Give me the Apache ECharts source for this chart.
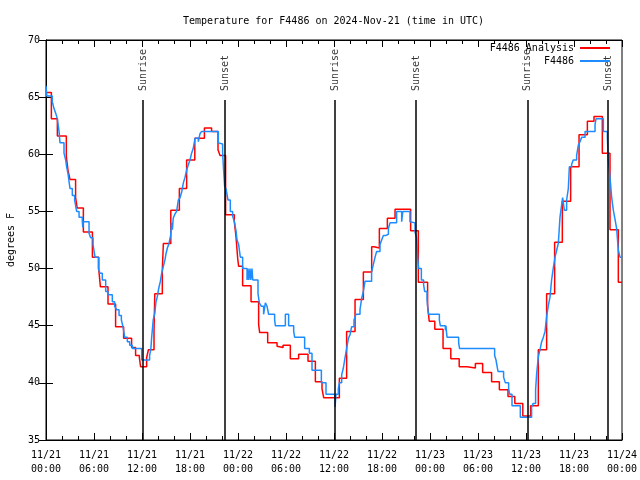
<!DOCTYPE html>
<html><head><meta charset="utf-8">
<script src="https://cdn.jsdelivr.net/npm/echarts@6/dist/echarts.min.js"></script>
<style>html,body{margin:0;padding:0;background:#fff}#c{width:640px;height:480px}</style>
</head><body><div id="c"></div>
<script>
// hours since 2024-11-21 00:00 UTC
const analysisHours = [0,0.67,1.42,2.54,2.75,3.0,3.7,3.9,4.67,5.8,6.6,6.8,7.75,8.7,9.7,10.7,11.2,11.67,11.83,12.58,12.8,13.5,13.6,14.54,14.67,15.6,16.67,17.58,18.6,19.8,20.7,21.5,21.75,22.45,23.54,23.75,23.96,24.08,24.58,25.63,26.58,26.71,27.71,28.88,29.08,29.63,30.54,31.58,32.75,33.67,34.5,34.71,36.67,37.58,38.63,39.67,40.71,41.0,41.67,42.67,43.63,45.58,46.54,47.7,47.9,48.6,49.63,50.6,51.65,52.63,53.67,54.58,55.7,56.67,57.75,58.6,59.6,60.58,61.54,62.58,63.58,64.54,65.58,66.63,67.67,68.5,69.54,70.5,71.54,72];
const analysisTemps = [65.4,63.1,61.6,59.8,58.6,57.8,56.2,55.3,53.2,51.0,49.9,48.4,46.9,44.9,43.9,43.1,42.4,42.2,41.4,42.2,42.9,44.5,47.8,49.9,52.2,55.1,57.0,59.5,61.4,62.3,62.0,60.4,59.9,54.7,54.1,52.8,50.9,50.2,48.5,47.1,45.1,44.4,43.5,43.2,43.1,43.3,42.1,42.5,41.9,40.1,39.5,38.7,40.4,44.5,47.3,49.7,51.9,51.8,53.5,54.4,55.2,53.3,48.8,46.8,45.4,44.7,43.0,42.1,41.4,41.3,41.7,40.9,40.1,39.4,38.8,38.2,37.1,38.0,42.9,47.8,52.3,55.9,58.9,61.7,62.9,63.3,60.1,53.4,48.8,48.8];

const stationHours = [0,0.1,0.79,1.0,1.21,1.42,1.63,1.75,2.25,2.46,2.58,2.75,3.0,3.29,3.58,3.83,4.13,4.54,4.6,4.65,5.38,5.58,5.88,6.13,6.54,6.75,7.04,7.46,7.75,8.29,8.58,8.83,9.13,9.42,9.63,9.83,10.17,10.46,10.79,11.96,12.95,13.1,13.2,13.4,13.6,13.75,13.9,14.1,14.3,14.46,14.67,14.88,15.0,15.17,15.38,15.58,15.7,15.8,15.9,16.13,16.33,16.54,16.75,16.96,17.17,17.38,17.58,17.8,18.0,18.2,18.4,18.63,19.04,19.25,19.46,21.54,21.75,22.08,22.2,22.33,22.5,22.75,23.04,23.33,23.58,23.75,23.88,24.08,24.29,24.58,25.13,25.25,25.35,25.5,25.6,25.75,25.85,26.5,26.67,26.92,27.2,27.42,27.63,27.83,28.58,28.67,29.92,30.33,30.96,31.08,32.33,32.92,33.25,34.42,35.0,36.13,36.25,36.54,36.67,36.96,37.17,37.38,37.58,37.8,38.0,38.2,38.5,38.75,39.25,39.46,39.67,39.88,40.7,40.9,41.13,41.33,41.75,41.96,42.17,42.5,42.8,43.0,43.83,44.46,44.6,45.5,45.7,46.13,46.33,46.45,46.58,46.92,47.2,47.33,47.63,47.75,47.83,49.17,49.29,49.92,50.0,50.05,50.13,51.58,51.7,56.08,56.25,56.5,57.2,57.42,57.83,57.96,58.25,59.29,60.7,60.9,61.2,61.33,61.54,61.75,61.96,62.17,62.38,62.58,62.8,63.0,63.2,63.4,63.63,63.83,64.04,64.25,64.46,64.58,64.8,65.08,65.29,65.42,65.7,65.9,66.33,66.54,66.75,66.96,67.38,68.63,68.75,69.67,70.17,70.29,70.5,70.71,70.92,71.13,71.33,71.54,71.75,72];
const stationTemps = [66.0,65.1,64.6,64.0,63.6,63.1,62.0,61.0,60.1,59.5,58.9,58.3,57.0,56.4,56.0,55.0,54.5,54.1,53.6,54.1,53.1,52.7,52.1,51.0,50.0,49.6,49.0,48.0,47.7,47.1,46.7,46.4,45.9,45.5,44.9,44.0,43.6,43.3,43.0,42.0,42.4,42.9,43.9,45.5,46.1,47.1,47.5,48.3,48.9,49.6,50.2,50.8,51.3,51.8,52.2,52.9,54.0,53.4,54.4,54.8,55.0,56.0,56.2,56.7,57.5,58.0,58.6,59.1,59.5,60.1,60.5,61.4,61.1,61.8,62.0,61.0,60.9,60.1,58.6,57.2,57.0,56.0,55.0,54.6,54.0,53.3,52.5,52.1,51.0,50.0,49.0,50.0,49.0,50.0,49.0,50.0,49.0,47.8,47.0,46.7,46.0,47.0,46.7,46.0,45.5,45.0,46.0,45.0,44.5,44.0,43.0,42.6,41.1,40.0,39.0,37.9,39.0,39.5,40.0,40.7,41.3,42.2,43.0,43.9,44.2,44.9,45.5,46.0,46.4,47.4,48.0,48.9,49.7,50.3,51.0,51.5,52.1,52.5,52.9,53.0,53.5,54.0,55.0,54.1,55.0,54.1,54.0,53.2,52.7,51.0,50.0,49.0,48.6,48.0,47.3,46.3,46.0,45.5,45.0,44.6,45.0,44.5,44.0,43.5,43.0,42.4,42.0,41.0,40.5,40.0,39.5,39.0,38.0,37.0,37.9,38.2,39.4,40.8,42.3,42.9,43.6,44.0,44.5,45.8,46.8,47.5,49.0,50.0,51.0,51.6,52.2,54.5,55.6,56.2,55.1,56.0,57.0,58.9,59.1,59.5,59.9,60.8,61.1,61.5,62.0,62.6,63.1,62.0,61.5,59.5,58.0,56.2,55.1,54.3,53.5,51.6,51.0,51.0];

const sunriseHours = [12.15, 36.15, 60.17];
const sunsetHours = [22.4, 46.27, 70.28];
const dayLabels = ['11/21', '11/22', '11/23', '11/24'];
const yTicks = [35, 40, 45, 50, 55, 60, 65, 70];

const FONT = 'DejaVu Sans Mono';
const pair = (xs, ys) => xs.map((x, i) => [x, ys[i]]);
const sunLabelTemp = 65.45, sunLineTop = 64.75;

const sunPoints = sunriseHours.map(h => ({name: 'Sunrise', value: [h, sunLabelTemp]}))
  .concat(sunsetHours.map(h => ({name: 'Sunset', value: [h, sunLabelTemp]})));
const sunLines = sunriseHours.concat(sunsetHours).map(h => [{coord: [h, yTicks[0]]}, {coord: [h, sunLineTop]}]);

const xFmt = v => {
  const d = Math.floor(v / 24 + 1e-6), hh = Math.round(v - d * 24);
  return dayLabels[d] + '\n' + String(hh).padStart(2, '0') + ':00';
};
const tickStyle = {inside: true, length: 7, lineStyle: {color: '#000', width: 1}};
const minor = {show: true, splitNumber: 3, length: 4, lineStyle: {color: '#000', width: 1}};

const chart = echarts.init(document.getElementById('c'), null, {renderer: 'canvas'});
chart.setOption({
  animation: false,
  backgroundColor: '#fff',
  textStyle: {fontFamily: FONT},
  title: {text: 'Temperature for F4486 on 2024-Nov-21 (time in UTC)', left: 178, top: 11,
    textStyle: {fontFamily: FONT, fontSize: 10, fontWeight: 'normal', color: '#000'}},
  legend: {orient: 'vertical', right: 25, top: 38, align: 'right', itemWidth: 30, itemHeight: 2, itemGap: 3,
    icon: 'rect', data: ['F4486 Analysis', 'F4486'],
    textStyle: {fontFamily: FONT, fontSize: 10, color: '#000', padding: [0, 1, 0, 0]}},
  grid: {left: 46, right: 18, top: 40, bottom: 40, show: true, borderColor: '#000', borderWidth: 1,
    containLabel: false, outerBoundsMode: 'none'},
  xAxis: [
    {type: 'value', min: 0, max: 72, interval: 6, position: 'bottom',
     axisLine: {show: true, lineStyle: {color: '#000'}}, axisTick: tickStyle, minorTick: minor,
     splitLine: {show: false},
     axisLabel: {formatter: xFmt, fontFamily: FONT, fontSize: 10, color: '#000', margin: 8, lineHeight: 14}},
    {type: 'value', min: 0, max: 72, interval: 6, position: 'top',
     axisLine: {show: true, lineStyle: {color: '#000'}}, axisTick: tickStyle, minorTick: minor,
     splitLine: {show: false}, axisLabel: {show: false}}
  ],
  yAxis: [
    {type: 'value', min: yTicks[0], max: yTicks[yTicks.length - 1], interval: 5, position: 'left',
     name: 'degrees F', nameLocation: 'middle', nameRotate: 90, nameGap: 30,
     nameTextStyle: {fontFamily: FONT, fontSize: 10, color: '#000'},
     axisLine: {show: true, lineStyle: {color: '#000'}}, axisTick: tickStyle, splitLine: {show: false},
     axisLabel: {fontFamily: FONT, fontSize: 10, color: '#000', margin: 6}},
    {type: 'value', min: yTicks[0], max: yTicks[yTicks.length - 1], interval: 5, position: 'right',
     axisLine: {show: true, lineStyle: {color: '#000'}}, axisTick: tickStyle, splitLine: {show: false},
     axisLabel: {show: false}}
  ],
  series: [
    {type: 'scatter', name: 'sun', symbolSize: 0, data: sunPoints, silent: true, z: 1,
     label: {show: true, formatter: '{b}', position: 'inside', rotate: 90, align: 'left', verticalAlign: 'middle',
       offset: [1, 0], fontFamily: FONT, fontSize: 10, color: '#000'},
     markLine: {silent: true, symbol: 'none', animation: false, label: {show: false},
       lineStyle: {color: '#000', width: 1.5, type: 'solid'}, data: sunLines}},
    {type: 'line', name: 'F4486 Analysis', step: 'end', showSymbol: false, symbol: 'none',
     data: pair(analysisHours, analysisTemps), itemStyle: {color: '#ff0000'},
     lineStyle: {color: '#ff0000', width: 1.5}, z: 2},
    {type: 'line', name: 'F4486', step: 'end', showSymbol: false, symbol: 'none',
     data: pair(stationHours, stationTemps), itemStyle: {color: '#1e8cff'},
     lineStyle: {color: '#1e8cff', width: 1.5}, z: 3}
  ]
});
</script>
</body></html>
